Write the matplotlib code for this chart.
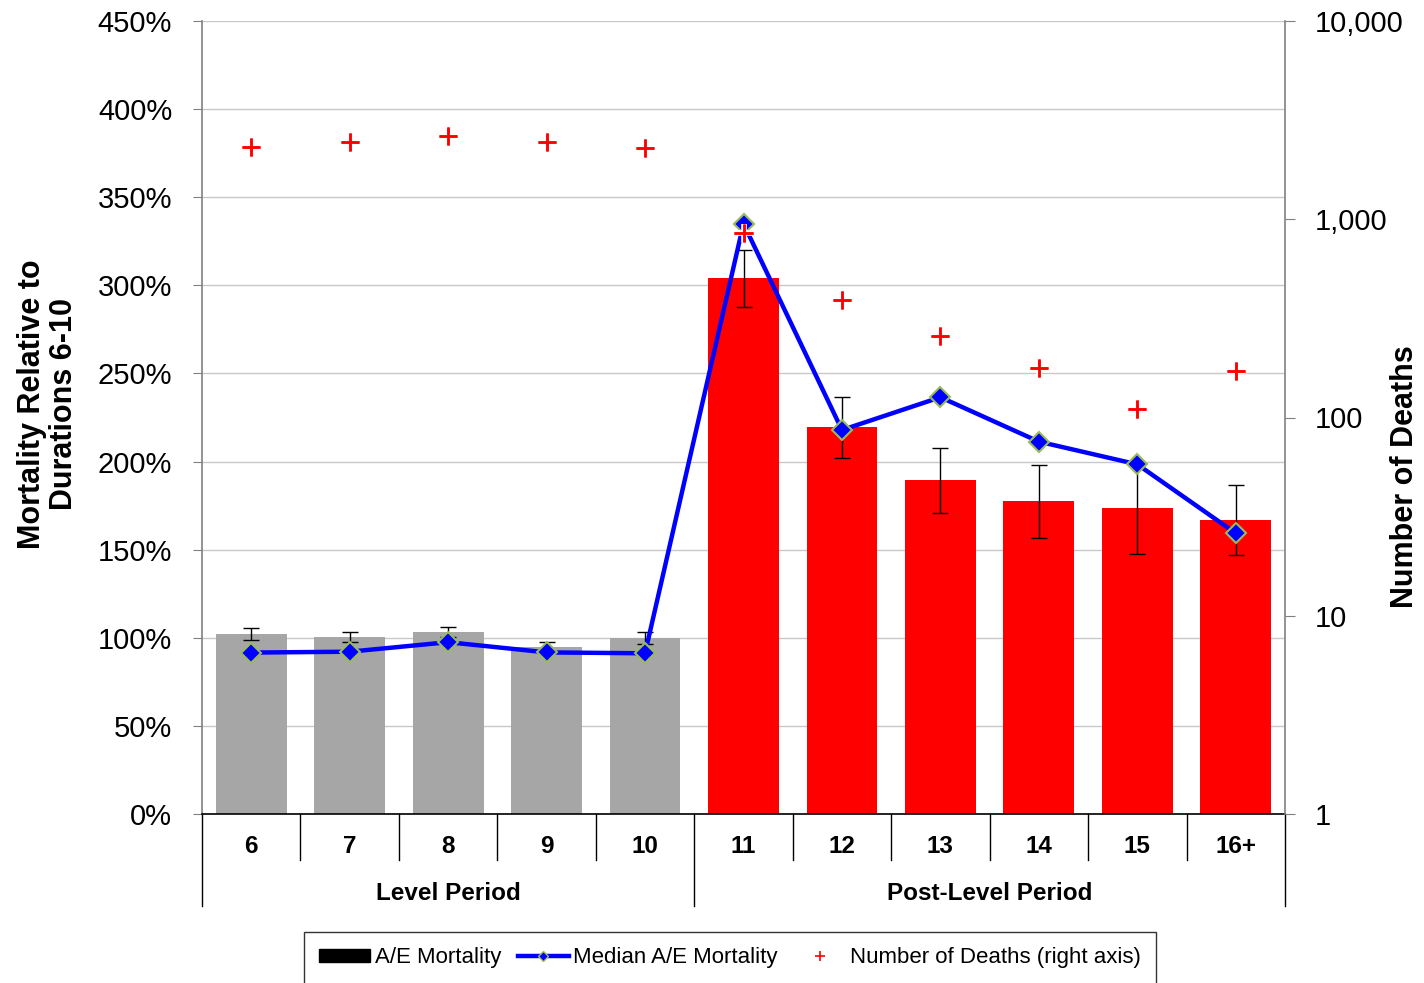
import matplotlib
matplotlib.use("Agg")
import matplotlib.pyplot as plt
from matplotlib.lines import Line2D
from matplotlib.patches import Patch
from matplotlib.ticker import FuncFormatter, FixedLocator, NullLocator
import matplotlib.patheffects as pe
import numpy as np

plt.rcParams['font.family'] = ['Liberation Sans', 'DejaVu Sans']

# ---- data ----
durations = ["6", "7", "8", "9", "10", "11", "12", "13", "14", "15", "16+"]
period = ["Level", "Level", "Level", "Level", "Level",
          "Post", "Post", "Post", "Post", "Post", "Post"]
groups = ["Level Period", "Post-Level Period"]
ae_mortality = [102.2, 100.5, 103.3, 94.8, 99.9, 304.2, 219.6, 189.6, 177.6, 173.7, 166.9]
ci_high = [105.4, 103.3, 106.0, 97.8, 103.3, 320.1, 236.7, 207.6, 198.1, 199.8, 186.5]
ci_low = [98.9, 97.4, 100.5, 91.8, 96.6, 287.6, 202.2, 171.0, 156.8, 147.6, 147.0]
median_ae = [91.6, 92.1, 97.5, 91.7, 91.2, 335.0, 217.9, 236.5, 211.3, 198.4, 159.3]
deaths = [2320, 2450, 2630, 2440, 2290, 850, 391, 258, 178, 110, 172]
left_ticks = [0, 50, 100, 150, 200, 250, 300, 350, 400, 450]
right_ticks = [1, 10, 100, 1000, 10000]

W, H = 1424, 983
fig = plt.figure(figsize=(W / 100, H / 100), dpi=100)
L, R, T, B = 202, 1285, 21, 814
ax = fig.add_axes([L / W, 1 - B / H, (R - L) / W, (B - T) / H])

x = np.arange(len(durations))
ae = np.array(ae_mortality)
colors = ['#A6A6A6' if p == "Level" else '#FF0000' for p in period]
yerr = [ae - np.array(ci_low), np.array(ci_high) - ae]
ax.bar(x, ae, width=0.72, color=colors, zorder=2,
       yerr=yerr, error_kw=dict(ecolor='black', elinewidth=1, capsize=5.5, capthick=1, zorder=3))
ax.plot(x, median_ae, color='#0000FF', lw=3.2, marker='D', markersize=10,
        markerfacecolor='#0000FF', markeredgecolor='#9BBB59', markeredgewidth=1.5, zorder=4)

ax.set_xlim(-0.5, len(durations) - 0.5)
ax.set_ylim(0, 450)
ax.yaxis.set_major_locator(FixedLocator(left_ticks))
ax.yaxis.set_major_formatter(FuncFormatter(lambda v, p: f"{v:.0f}%"))
ax.grid(axis='y', color='#C8C8C8', lw=1, zorder=0)
ax.set_axisbelow(True)
ax.tick_params(axis='y', direction='out', length=6.5, color='#808080', labelsize=21, pad=15)
ax.set_xticks(x)
ax.set_xticklabels(durations, fontweight='bold', fontsize=17.5)
ax.tick_params(axis='x', length=0, pad=15)
for s in ['top', 'right']:
    ax.spines[s].set_visible(False)
ax.spines['left'].set_color('#808080')
ax.spines['left'].set_linewidth(1.2)
ax.spines['bottom'].set_color('black')
ax.spines['bottom'].set_linewidth(1.2)

# category separators
trans = ax.get_xaxis_transform()
for i in range(len(durations) + 1):
    xs = i - 0.5
    is_group_edge = (i == 0) or (i == len(durations)) or (0 < i < len(durations) and period[i] != period[i - 1])
    ybot = -0.116 if is_group_edge else -0.058
    ax.plot([xs, xs], [0, ybot], transform=trans, color='black', lw=1, clip_on=False)

# group labels
for g, key in zip(groups, ["Level", "Post"]):
    idx = [i for i, p in enumerate(period) if p == key]
    ax.text(np.mean(idx), -0.1, g, transform=trans, ha='center', va='center',
            fontsize=17.5, fontweight='bold')

fig.text(48 / W, 1 - 404 / H, "Mortality Relative to\nDurations 6-10", rotation=90,
         ha='center', va='center', multialignment='center', fontweight='bold',
         fontsize=22, linespacing=1.1)

# right axis
ax2 = ax.twinx()
ax2.set_yscale('log')
ax2.set_ylim(1, 10000)
ax2.plot(x, deaths, linestyle='none', marker='+', markersize=13, markeredgewidth=1.8,
         color='#FF0000', zorder=5,
         path_effects=[pe.withStroke(linewidth=4, foreground='white'), pe.Normal()])
ax2.yaxis.set_major_locator(FixedLocator(right_ticks))
ax2.yaxis.set_minor_locator(NullLocator())
ax2.yaxis.set_major_formatter(FuncFormatter(lambda v, p: f"{v:,.0f}"))
ax2.tick_params(axis='y', direction='out', length=7, color='#808080', labelsize=21, pad=14.5)
for s in ['top', 'left', 'bottom']:
    ax2.spines[s].set_visible(False)
ax2.spines['right'].set_color('#808080')
ax2.spines['right'].set_linewidth(1.2)
fig.text(1405 / W, 1 - 477 / H, "Number of Deaths", rotation=90,
         ha='center', va='center', fontweight='bold', fontsize=22)

# legend
handles = [
    Patch(facecolor='black', edgecolor='black'),
    Line2D([], [], color='#0000FF', lw=3.2, marker='D', markersize=5,
           markerfacecolor='#0000FF', markeredgecolor='#9BBB59'),
    Line2D([], [], color='#FF0000', linestyle='none', marker='+', markersize=7, markeredgewidth=1.2),
]
labels = ["A/E Mortality", "Median A/E Mortality", "Number of Deaths (right axis)"]
leg = fig.legend(handles, labels, loc='center', bbox_to_anchor=(730 / W, 1 - 958 / H),
                 ncol=3, frameon=True, fancybox=False, edgecolor='black',
                 handlelength=2.3, handleheight=0.55, handletextpad=0.2, columnspacing=0.75,
                 borderpad=0.7, borderaxespad=0, prop={'size': 16})
leg.get_frame().set_linewidth(1)

fig.savefig("out.png", dpi=100)
